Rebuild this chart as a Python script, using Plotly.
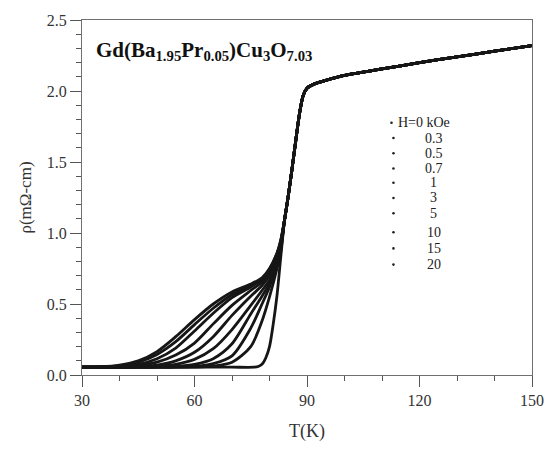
import plotly.graph_objects as go

# ---------------- data ----------------
fields = ["H=0 kOe", "0.3", "0.5", "0.7", "1", "3", "5", "10", "15", "20"]

# superconducting-transition branch, field curves
T_sc = [30, 35, 40, 45, 50, 55, 60, 65, 70, 75, 78, 80, 82, 83]
rho_03 = [.055, .055, .055, .055, .055, .055, .056, .063, .09, .20, .38, .55, .75, .87]
rho_05 = [.055, .055, .055, .055, .055, .055, .06, .08, .135, .33, .50, .62, .78, .89]
rho_07 = [.055, .055, .055, .055, .055, .06, .075, .115, .22, .43, .555, .645, .79, .90]
rho_1 = [.055, .055, .055, .055, .06, .075, .11, .185, .32, .49, .595, .67, .80, .91]
rho_3 = [.055, .055, .055, .06, .07, .10, .16, .27, .42, .555, .63, .70, .82, .92]
rho_5 = [.055, .055, .057, .065, .09, .14, .225, .36, .49, .595, .655, .72, .84, .93]
rho_10 = [.055, .056, .06, .075, .115, .19, .31, .435, .545, .62, .675, .74, .85, .94]
rho_15 = [.055, .057, .065, .09, .145, .235, .355, .47, .565, .63, .68, .745, .855, .945]
rho_20 = [.055, .058, .07, .10, .165, .27, .39, .50, .585, .64, .685, .75, .86, .95]

# zero-field curve (sharp transition)
T_h0 = [30, 40, 50, 60, 70, 76, 77, 78, 79, 80, 81, 82, 83]
rho_h0 = [.055, .055, .055, .055, .055, .055, .06, .075, .12, .20, .36, .56, .83]

# common upper transition + normal state
T_n = [84, 85, 86, 87, 88, 89, 90, 92, 95, 100, 110, 120, 130, 140, 150]
rho_n = [1.09, 1.26, 1.45, 1.65, 1.84, 1.97, 2.02, 2.05, 2.075, 2.11, 2.155, 2.20, 2.24, 2.28, 2.32]

x_ticks = [30, 60, 90, 120, 150]
y_ticks = [0.0, 0.5, 1.0, 1.5, 2.0, 2.5]

# ---------------- figure ----------------
FONT = "Liberation Serif"
LINE = "#161616"

curves = [
    (T_h0, rho_h0), (T_sc, rho_03), (T_sc, rho_05), (T_sc, rho_07), (T_sc, rho_1),
    (T_sc, rho_3), (T_sc, rho_5), (T_sc, rho_10), (T_sc, rho_15), (T_sc, rho_20),
]

fig = go.Figure()
for name, (tt, rr) in zip(fields, curves):
    fig.add_trace(go.Scatter(
        x=list(tt) + T_n, y=list(rr) + rho_n, mode="lines", name=name,
        line=dict(color=LINE, width=2.8, shape="spline", smoothing=0.8),
        showlegend=False, hoverinfo="skip",
    ))

# plot-area geometry (pixels) for placing the hand-made legend
L, R, T, B = 82, 540, 19, 392
W, H = 556, 450


def px(xp):
    return (xp - L) / (R - L)


def py(yp):
    return (B - yp) / (B - T)


legend_rows = [127, 143, 159, 175, 190, 206, 222, 242, 259, 276]
annotations = []
shapes = []
for i, (lab, yr) in enumerate(zip(fields, legend_rows)):
    dx = 397 if i == 0 else 399
    shapes.append(dict(type="circle", xref="paper", yref="paper",
                       xsizemode="pixel", ysizemode="pixel",
                       xanchor=px(dx), yanchor=py(yr),
                       x0=-1.3, x1=1.3, y0=-1.3, y1=1.3,
                       fillcolor="#222", line=dict(width=0)))
    if i == 0:
        annotations.append(dict(xref="paper", yref="paper", x=px(402), y=py(yr),
                                xanchor="left", yanchor="middle", text=lab,
                                showarrow=False, font=dict(family=FONT, size=14, color="#222")))
    else:
        annotations.append(dict(xref="paper", yref="paper", x=px(440), y=py(yr),
                                xanchor="center", yanchor="middle", text=lab,
                                showarrow=False, font=dict(family=FONT, size=14, color="#222")))

annotations.append(dict(
    xref="paper", yref="paper", x=px(94), y=py(52), xanchor="left", yanchor="middle",
    text="<b>Gd(Ba<sub>1.95</sub>Pr<sub>0.05</sub>)Cu<sub>3</sub>O<sub>7.03</sub></b>",
    showarrow=False, font=dict(family=FONT, size=21, color="#111"),
))

axis_common = dict(
    showline=True, linecolor="#707070", linewidth=1.3, mirror=True,
    ticks="outside", ticklen=11, tickwidth=1.2, tickcolor="#555",
    showgrid=False, zeroline=False,
    tickfont=dict(family=FONT, size=16, color="#333"),
)

fig.update_layout(
    width=W, height=H,
    margin=dict(l=L, r=W - R, t=T, b=H - B),
    paper_bgcolor="white", plot_bgcolor="white",
    shapes=shapes, annotations=annotations,
    xaxis=dict(range=[30, 150], tickvals=x_ticks, ticktext=[str(v) for v in x_ticks],
               minor=dict(tickvals=list(range(30, 151, 10)), ticks="outside", ticklen=5,
                          tickcolor="#555"),
               title=dict(text="T(K)", font=dict(family=FONT, size=18, color="#333"), standoff=16),
               **axis_common),
    yaxis=dict(range=[0, 2.5], tickvals=y_ticks, ticktext=[f"{v:.1f}" for v in y_ticks],
               minor=dict(tickvals=[round(0.1 * k, 1) for k in range(26)], ticks="outside",
                          ticklen=5, tickcolor="#555"),
               title=dict(text="ρ(mΩ-cm)", font=dict(family=FONT, size=17, color="#333"), standoff=10),
               **axis_common),
)

fig.write_html("out.html")
